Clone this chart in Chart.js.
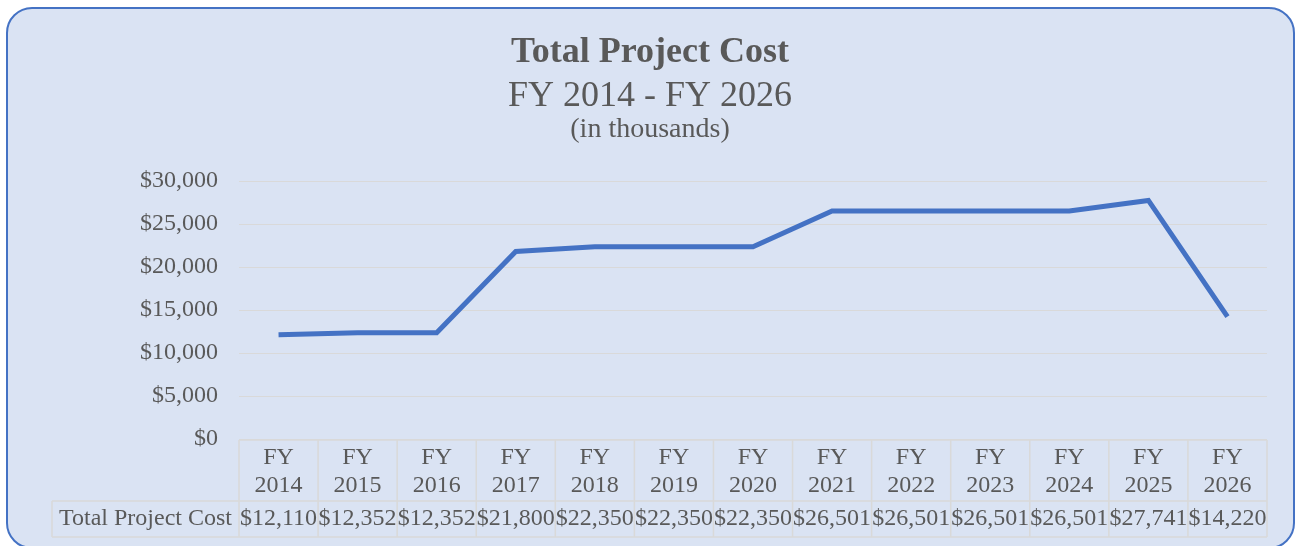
<!DOCTYPE html>
<html>
<head>
<meta charset="utf-8">
<script src="https://cdn.jsdelivr.net/npm/chart.js@4.4.1/dist/chart.umd.min.js"></script>
<style>
  html, body { margin: 0; padding: 0; background: #ffffff; overflow: hidden; }
  #marco {
    position: absolute; left: 6px; top: 7px; width: 1285px; height: 538px;
    border: 2px solid #4472C4; border-radius: 26px; background: #DAE3F3;
  }
  #grafico { position: absolute; left: 0; top: 0; }
</style>
</head>
<body>
<div id="marco"></div>
<canvas id="grafico" width="1295" height="546"></canvas>
<script>
// datos del grafico
const anios = ["2014", "2015", "2016", "2017", "2018", "2019", "2020", "2021", "2022", "2023", "2024", "2025", "2026"];
const costos = [12110, 12352, 12352, 21800, 22350, 22350, 22350, 26501, 26501, 26501, 26501, 27741, 14220];
const nombreSerie = "Total Project Cost";
const titulos = ["Total Project Cost", "FY 2014 - FY 2026", "(in thousands)"];

const colorTexto = "#595959";
const colorLinea = "#D9D9D9";
const fuente = "'Liberation Serif', 'Times New Roman', serif";

const dinero = (v) => "$" + v.toLocaleString("en-US");

// titulo de tres lineas
const pluginTitulo = {
  id: "titulo",
  afterDraw(chart) {
    const ctx = chart.ctx;
    ctx.save();
    ctx.fillStyle = colorTexto;
    ctx.textAlign = "center";
    ctx.textBaseline = "alphabetic";
    ctx.font = "bold 36px " + fuente;
    ctx.fillText(titulos[0], 650, 62);
    ctx.font = "36px " + fuente;
    ctx.fillText(titulos[1], 650, 106);
    ctx.font = "28px " + fuente;
    ctx.fillText(titulos[2], 650, 137);
    ctx.restore();
  }
};

// tabla de datos debajo del eje x
const pluginTabla = {
  id: "tabla",
  afterDraw(chart) {
    const ctx = chart.ctx;
    const x = chart.scales.x;
    const area = chart.chartArea;
    const ancho = x.getPixelForValue(1) - x.getPixelForValue(0);
    const top = area.bottom + 1;
    const filaMedio = top + 61;
    const filaFin = filaMedio + 36;
    const izq = 52;

    ctx.save();
    ctx.strokeStyle = colorLinea;
    ctx.lineWidth = 1.5;
    ctx.beginPath();
    ctx.moveTo(area.left, top); ctx.lineTo(area.right, top);
    ctx.moveTo(izq, filaMedio); ctx.lineTo(area.right, filaMedio);
    ctx.moveTo(izq, filaFin); ctx.lineTo(area.right, filaFin);
    ctx.moveTo(izq, filaMedio); ctx.lineTo(izq, filaFin);
    for (let i = 0; i <= anios.length; i++) {
      const bx = x.getPixelForValue(0) - ancho / 2 + i * ancho;
      ctx.moveTo(bx, top); ctx.lineTo(bx, filaFin);
    }
    ctx.stroke();

    ctx.fillStyle = colorTexto;
    ctx.font = "24px " + fuente;
    ctx.textBaseline = "alphabetic";
    ctx.textAlign = "center";
    anios.forEach((a, i) => {
      const cx = x.getPixelForValue(i);
      ctx.fillText("FY", cx, top + 24);
      ctx.fillText(a, cx, top + 52);
      ctx.fillText(dinero(costos[i]), cx, filaMedio + 24);
    });
    ctx.fillText(nombreSerie, (izq + area.left) / 2, filaMedio + 24);
    ctx.restore();
  }
};

new Chart(document.getElementById("grafico"), {
  type: "line",
  data: {
    labels: anios.map((a) => "FY " + a),
    datasets: [{
      label: nombreSerie,
      data: costos,
      borderColor: "#4472C4",
      borderWidth: 5,
      pointRadius: 0,
      tension: 0,
      fill: false
    }]
  },
  options: {
    responsive: false,
    animation: false,
    layout: { padding: { left: 0, right: 28, top: 181, bottom: 107 } },
    plugins: {
      legend: { display: false },
      tooltip: { enabled: false },
      title: { display: false }
    },
    scales: {
      x: { display: false, offset: true },
      y: {
        min: 0,
        max: 30000,
        afterFit: (s) => { s.width = 239; },
        ticks: {
          stepSize: 5000,
          padding: 21,
          color: colorTexto,
          font: { family: fuente, size: 24 },
          callback: (v) => dinero(v)
        },
        grid: { color: colorLinea, lineWidth: 1, drawTicks: false },
        border: { display: false }
      }
    }
  },
  plugins: [pluginTitulo, pluginTabla]
});
</script>
</body>
</html>
